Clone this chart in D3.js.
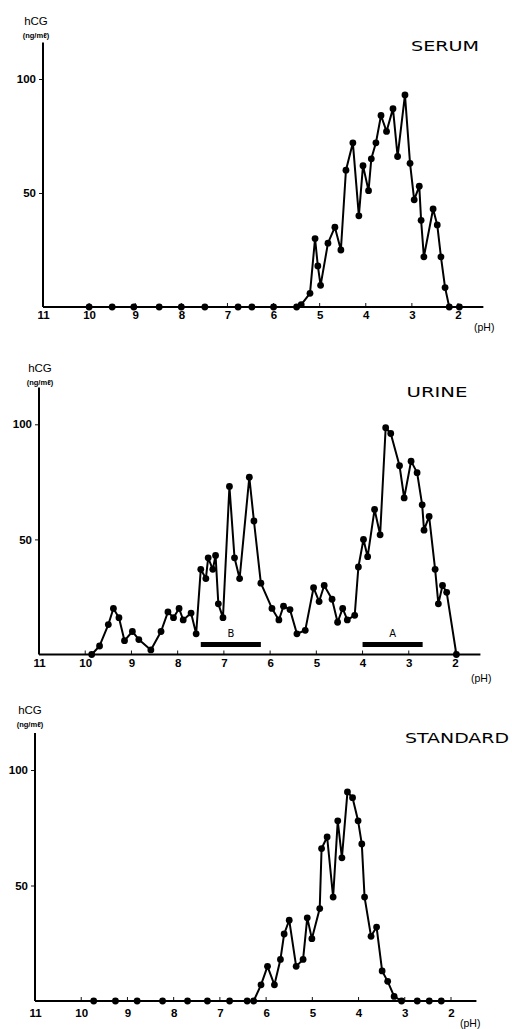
<!DOCTYPE html>
<html>
<head>
<meta charset="utf-8">
<script src="https://cdn.jsdelivr.net/npm/d3@7"></script>
<style>
  body { margin: 0; background: #fff; }
  svg { display: block; }
</style>
</head>
<body>
<svg id="chart" width="512" height="1029"></svg>
<script>
// tick values
const phTicks = [11, 10, 9, 8, 7, 6, 5, 4, 3, 2];
const hcgTicks = [50, 100];

// SERUM
const serumPH = [10.0, 9.5, 9.03, 8.48, 8.0, 7.49, 6.77, 6.47, 6.0, 5.5, 5.4, 5.21, 5.1, 5.04, 4.98, 4.82, 4.67, 4.54, 4.43, 4.28, 4.15, 4.06, 3.94, 3.88, 3.78, 3.67, 3.55, 3.41, 3.31, 3.15, 3.04, 2.95, 2.84, 2.8, 2.74, 2.54, 2.45, 2.37, 2.28, 2.19, 1.97];
const serumHCG = [0, 0, 0, 0, 0, 0, 0, 0, 0, 0, 1, 6, 30, 18, 9.5, 28, 35, 25, 60, 72, 40, 62, 51, 65, 72, 84, 77, 87, 66, 93, 63, 47, 53, 38, 22, 43, 36, 22, 8.5, 0, 0];

// URINE
const urinePH = [9.86, 9.69, 9.5, 9.39, 9.27, 9.15, 8.98, 8.84, 8.58, 8.36, 8.21, 8.09, 7.97, 7.88, 7.71, 7.6, 7.5, 7.39, 7.34, 7.24, 7.18, 7.12, 7.02, 6.88, 6.77, 6.66, 6.45, 6.35, 6.2, 5.96, 5.81, 5.71, 5.57, 5.42, 5.24, 5.06, 4.94, 4.83, 4.66, 4.54, 4.43, 4.33, 4.17, 4.09, 3.98, 3.89, 3.74, 3.62, 3.5, 3.39, 3.2, 3.1, 2.95, 2.82, 2.71, 2.67, 2.56, 2.43, 2.36, 2.27, 2.18, 1.97];
const urineHCG = [0, 3.7, 13, 20, 16, 6, 10, 6.5, 2, 10, 18.5, 16, 20, 15, 18, 9, 37, 33, 42, 37, 43, 22, 16, 73, 42, 33, 77, 58, 31, 20, 15, 21, 19.5, 9, 10.5, 29, 23, 30, 24, 14, 20, 15, 17, 38, 50, 42.5, 63, 52, 98.5, 96, 82, 68, 84, 79, 65, 54, 60, 37, 22, 30, 27, 0];
const bandLabels = ["B", "A"];
const bandFrom = [7.5, 4.0];
const bandTo = [6.2, 2.7];

// STANDARD
const standardPH = [9.73, 9.26, 8.79, 8.24, 7.7, 7.27, 6.79, 6.41, 6.27, 6.11, 5.97, 5.82, 5.69, 5.61, 5.5, 5.35, 5.2, 5.11, 5.01, 4.84, 4.8, 4.68, 4.55, 4.45, 4.36, 4.24, 4.13, 4.01, 3.93, 3.87, 3.73, 3.61, 3.49, 3.37, 3.23, 3.07, 2.73, 2.47, 2.21];
const standardHCG = [0, 0, 0, 0, 0, 0, 0, 0, 0, 7, 15, 7, 18, 29, 35, 15, 18, 36, 27, 40, 66, 71, 45, 78, 62, 90.5, 88, 78, 68, 45, 28, 32, 13, 8.5, 2, 0, 0, 0, 0];

const panels = [
  { title: "SERUM", ph: serumPH, hcg: serumHCG, x0: 43, x1: 458, y0: 307, y100: 79,
    titleX: 445, titleY: 51, titleW: 68, unitX: 36, unitY: 25, labelDy: 13, phX: 474, phY: 331 },
  { title: "URINE", ph: urinePH, hcg: urineHCG, x0: 39, x1: 455, y0: 654.5, y100: 424.3,
    titleX: 437, titleY: 397, titleW: 61, unitX: 40, unitY: 372, labelDy: 13.5, phX: 471, phY: 682, bands: true },
  { title: "STANDARD", ph: standardPH, hcg: standardHCG, x0: 35, x1: 451, y0: 1001, y100: 770,
    titleX: 457, titleY: 743, titleW: 104, unitX: 30, unitY: 714, labelDy: 17, phX: 460, phY: 1027 }
];

const svg = d3.select("#chart");
const tickFont = "'Liberation Sans', Arial, sans-serif";

panels.forEach(p => {
  const x = d3.scaleLinear().domain([11, 2]).range([p.x0, p.x1]);
  const y = d3.scaleLinear().domain([0, 100]).range([p.y0, p.y100]);
  const g = svg.append("g");

  // x axis labels
  const xAxis = d3.axisBottom(x).tickValues(phTicks).tickSize(0).tickPadding(p.labelDy - 9);
  const gx = g.append("g").attr("transform", `translate(0,${p.y0})`).call(xAxis);
  gx.select(".domain").remove();
  gx.selectAll("text")
    .attr("font-family", tickFont).attr("font-weight", "bold").attr("font-size", 11.5).attr("fill", "#000");

  // small inward ticks on the pH axis
  g.selectAll(".phtick").data(phTicks.slice(1)).enter().append("line")
    .attr("x1", d => x(d)).attr("x2", d => x(d))
    .attr("y1", p.y0).attr("y2", p.y0 - 4)
    .attr("stroke", "#111").attr("stroke-width", 1);

  // y axis labels
  const yAxis = d3.axisLeft(y).tickValues(hcgTicks).tickSize(4).tickPadding(3);
  const gy = g.append("g").attr("transform", `translate(${p.x0},0)`).call(yAxis);
  gy.select(".domain").remove();
  gy.selectAll("line").attr("stroke", "#111");
  gy.selectAll("text")
    .attr("font-family", tickFont).attr("font-weight", "bold").attr("font-size", 11.5).attr("fill", "#000");

  // axis lines
  g.append("line").attr("x1", p.x0).attr("x2", p.x0).attr("y1", y(0)).attr("y2", y(116))
    .attr("stroke", "#000").attr("stroke-width", 2);
  g.append("line").attr("x1", p.x0).attr("x2", x(1.45)).attr("y1", y(0)).attr("y2", y(0))
    .attr("stroke", "#000").attr("stroke-width", 2);

  // unit labels
  g.append("text").attr("x", p.unitX).attr("y", p.unitY).attr("text-anchor", "middle")
    .attr("font-family", "'Liberation Sans', Arial, sans-serif").attr("font-size", 11.5).text("hCG");
  g.append("text").attr("x", p.unitX).attr("y", p.unitY + 13).attr("text-anchor", "middle")
    .attr("font-family", "'Liberation Sans', sans-serif").attr("font-size", 7.5)
    .attr("font-weight", "bold").text("(ng/mℓ)");
  g.append("text").attr("x", p.phX).attr("y", p.phY)
    .attr("font-family", "'Liberation Sans', Arial, sans-serif").attr("font-size", 10.5).text("(pH)");

  // title
  g.append("text").attr("x", p.titleX).attr("y", p.titleY).attr("text-anchor", "middle")
    .attr("font-family", "'DejaVu Sans', sans-serif").attr("font-size", 14)
    .attr("textLength", p.titleW).attr("lengthAdjust", "spacingAndGlyphs").text(p.title);

  // fraction bands
  if (p.bands) {
    bandLabels.forEach((lab, i) => {
      g.append("line").attr("x1", x(bandFrom[i])).attr("x2", x(bandTo[i]))
        .attr("y1", y(4.3)).attr("y2", y(4.3)).attr("stroke", "#000").attr("stroke-width", 5);
      g.append("text").attr("x", (x(bandFrom[i]) + x(bandTo[i])) / 2).attr("y", y(7.5))
        .attr("text-anchor", "middle").attr("font-family", "'DejaVu Sans', sans-serif")
        .attr("font-size", 10).text(lab);
    });
  }

  // data
  const pts = p.ph.map((v, i) => [v, p.hcg[i]]);
  const line = d3.line().x(d => x(d[0])).y(d => y(d[1]));
  g.append("path").datum(pts).attr("d", line)
    .attr("fill", "none").attr("stroke", "#000").attr("stroke-width", 2).attr("stroke-linejoin", "round");
  g.selectAll(".dot").data(pts).enter().append("circle")
    .attr("cx", d => x(d[0])).attr("cy", d => y(d[1])).attr("r", 3.4).attr("fill", "#000");
});
</script>
</body>
</html>
